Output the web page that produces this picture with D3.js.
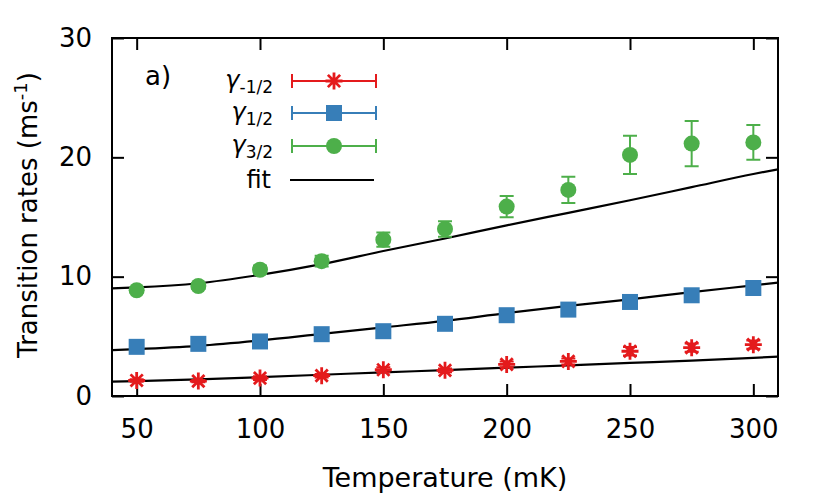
<!DOCTYPE html>
<html>
<head>
<meta charset="utf-8">
<script src="https://cdn.jsdelivr.net/npm/d3@7"></script>
<style>
  body { margin: 0; background: #fff; }
  text { font-family: "DejaVu Sans", sans-serif; fill: #000; }
</style>
</head>
<body>
<div id="chart"></div>
<script>
// measured temperatures (mK)
var temps = [50, 75, 100, 125, 150, 175, 200, 225, 250, 275, 300];

// rates gamma_-1/2, gamma_1/2, gamma_3/2 (ms^-1) and their errors
var rateM12 = [1.3, 1.25, 1.5, 1.7, 2.2, 2.15, 2.65, 2.9, 3.75, 4.05, 4.3];
var errM12  = [0.1, 0.1, 0.15, 0.15, 0.2, 0.15, 0.25, 0.25, 0.35, 0.35, 0.35];
var rate12  = [4.12, 4.37, 4.57, 5.18, 5.43, 6.05, 6.77, 7.24, 7.88, 8.44, 9.05];
var err12   = [0.2, 0.2, 0.2, 0.25, 0.25, 0.3, 0.3, 0.35, 0.35, 0.4, 0.4];
var rate32  = [8.86, 9.22, 10.58, 11.3, 13.1, 14.0, 15.87, 17.27, 20.2, 21.15, 21.25];
var err32   = [0.2, 0.25, 0.35, 0.45, 0.6, 0.65, 0.9, 1.1, 1.6, 1.9, 1.45];

// fit curves
var fitT     = [40, 50, 75, 100, 125, 150, 175, 200, 225, 250, 275, 300, 310];
var fitM12   = [1.2, 1.25, 1.4, 1.58, 1.78, 1.98, 2.17, 2.37, 2.57, 2.77, 2.97, 3.2, 3.3];
var fit12    = [3.85, 3.93, 4.2, 4.65, 5.2, 5.75, 6.3, 6.95, 7.55, 8.1, 8.7, 9.27, 9.5];
var fit32    = [9.02, 9.1, 9.45, 10.15, 11.05, 12.15, 13.2, 14.3, 15.35, 16.4, 17.5, 18.6, 19.0];

var xTicks = [50, 100, 150, 200, 250, 300];
var yTicks = [0, 10, 20, 30];

var red = "#e41a1c", blue = "#377eb8", green = "#4daf4a";

var W = 830, H = 498;
var margin = {top: 38, right: 52, bottom: 102, left: 112};
var width = W - margin.left - margin.right,
    height = H - margin.top - margin.bottom;

var svg = d3.select("#chart").append("svg")
  .attr("width", W)
  .attr("height", H);

var g = svg.append("g")
  .attr("transform", "translate(" + margin.left + "," + margin.top + ")");

var x = d3.scaleLinear().domain([40, 310]).range([0, width]);
var y = d3.scaleLinear().domain([0, 30]).range([height, 0]);

// axes, gnuplot style: inward ticks mirrored on all sides
var tickLen = 12;
g.append("g")
  .attr("transform", "translate(0," + height + ")")
  .call(d3.axisBottom(x).tickValues(xTicks).tickSize(-tickLen).tickPadding(24))
  .call(function(a) { a.select(".domain").remove(); });
g.append("g")
  .call(d3.axisTop(x).tickValues(xTicks).tickSize(-tickLen).tickFormat(""))
  .call(function(a) { a.select(".domain").remove(); });
g.append("g")
  .call(d3.axisLeft(y).tickValues(yTicks).tickSize(-tickLen).tickPadding(20))
  .call(function(a) { a.select(".domain").remove(); });
g.append("g")
  .attr("transform", "translate(" + width + ",0)")
  .call(d3.axisRight(y).tickValues(yTicks).tickSize(-tickLen).tickFormat(""))
  .call(function(a) { a.select(".domain").remove(); });

g.selectAll(".tick line").attr("stroke", "#000").attr("stroke-width", 2);
g.selectAll(".tick text")
  .style("font-family", "DejaVu Sans, sans-serif")
  .style("font-size", "26px");

// frame
g.append("rect")
  .attr("width", width)
  .attr("height", height)
  .attr("fill", "none")
  .attr("stroke", "#000")
  .attr("stroke-width", 2);

// clip for curves
svg.append("clipPath").attr("id", "clip")
  .append("rect").attr("width", width).attr("height", height);

// fits
var line = d3.line()
  .x(function(d) { return x(d[0]); })
  .y(function(d) { return y(d[1]); })
  .curve(d3.curveMonotoneX);

[fitM12, fit12, fit32].forEach(function(f) {
  g.append("path")
    .datum(d3.zip(fitT, f))
    .attr("clip-path", "url(#clip)")
    .attr("fill", "none")
    .attr("stroke", "#000")
    .attr("stroke-width", 2.2)
    .attr("d", line);
});

// marker drawing helpers
function drawStar(sel, color) {
  var s = 8.5, d = s * 0.72;
  sel.append("path")
    .attr("d", "M" + (-s) + ",0H" + s + "M0," + (-s) + "V" + s +
      "M" + (-d) + "," + (-d) + "L" + d + "," + d +
      "M" + (-d) + "," + d + "L" + d + "," + (-d))
    .attr("stroke", color)
    .attr("stroke-width", 2.8)
    .attr("fill", "none");
}
function drawSquare(sel, color) {
  sel.append("rect")
    .attr("x", -8).attr("y", -8).attr("width", 16).attr("height", 16)
    .attr("fill", color);
}
function drawCircle(sel, color) {
  sel.append("circle").attr("r", 8).attr("fill", color);
}

var series = [
  {vals: rateM12, errs: errM12, color: red, marker: drawStar},
  {vals: rate12, errs: err12, color: blue, marker: drawSquare},
  {vals: rate32, errs: err32, color: green, marker: drawCircle}
];

var cap = 7;
series.forEach(function(s) {
  var pts = temps.map(function(t, i) { return {t: t, v: s.vals[i], e: s.errs[i]}; });
  var grp = g.append("g");
  // error bars
  grp.selectAll(".eb")
    .data(pts)
    .enter()
    .append("path")
    .attr("fill", "none")
    .attr("stroke", s.color)
    .attr("stroke-width", 2)
    .attr("d", function(d) {
      var cx = x(d.t), y0 = y(d.v - d.e), y1 = y(d.v + d.e);
      return "M" + cx + "," + y0 + "V" + y1 +
        "M" + (cx - cap) + "," + y0 + "H" + (cx + cap) +
        "M" + (cx - cap) + "," + y1 + "H" + (cx + cap);
    });
  grp.selectAll(".pt")
    .data(pts)
    .enter()
    .append("g")
    .attr("transform", function(d) { return "translate(" + x(d.t) + "," + y(d.v) + ")"; })
    .each(function() { s.marker(d3.select(this), s.color); });
});

// panel label
svg.append("text")
  .attr("x", 145).attr("y", 85)
  .style("font-size", "26px")
  .text("a)");

// legend
var legX1 = 292, legX2 = 376, legTextX = 273;
var legRows = [
  {sub: "-1/2", color: red, marker: drawStar, y: 81},
  {sub: "1/2", color: blue, marker: drawSquare, y: 113},
  {sub: "3/2", color: green, marker: drawCircle, y: 146}
];
legRows.forEach(function(r) {
  var t = svg.append("text")
    .attr("x", legTextX).attr("y", r.y + 7)
    .attr("text-anchor", "end")
    .style("font-size", "24px");
  t.append("tspan").style("font-style", "italic").text("\u03b3");
  t.append("tspan").attr("dy", 5).style("font-size", "17px").text(r.sub);
  svg.append("path")
    .attr("fill", "none")
    .attr("stroke", r.color)
    .attr("stroke-width", 2)
    .attr("d", "M" + legX1 + "," + r.y + "H" + legX2 +
      "M" + legX1 + "," + (r.y - cap) + "V" + (r.y + cap) +
      "M" + legX2 + "," + (r.y - cap) + "V" + (r.y + cap));
  var m = svg.append("g").attr("transform", "translate(" + ((legX1 + legX2) / 2) + "," + r.y + ")");
  r.marker(m, r.color);
});
svg.append("text")
  .attr("x", 271).attr("y", 188)
  .attr("text-anchor", "end")
  .style("font-size", "24px")
  .text("fit");
svg.append("line")
  .attr("x1", legX1 - 2).attr("x2", legX2 - 2)
  .attr("y1", 180).attr("y2", 180)
  .attr("stroke", "#000").attr("stroke-width", 2.2);

// axis titles
svg.append("text")
  .attr("x", margin.left + width / 2)
  .attr("y", 487)
  .attr("text-anchor", "middle")
  .style("font-size", "27px")
  .text("Temperature (mK)");

var yl = svg.append("text")
  .attr("transform", "translate(37,215) rotate(-90)")
  .attr("text-anchor", "middle")
  .style("font-size", "26px");
yl.append("tspan").text("Transition rates (ms");
yl.append("tspan").attr("dy", -10).style("font-size", "18px").text("-1");
yl.append("tspan").attr("dy", 10).text(")");
</script>
</body>
</html>
